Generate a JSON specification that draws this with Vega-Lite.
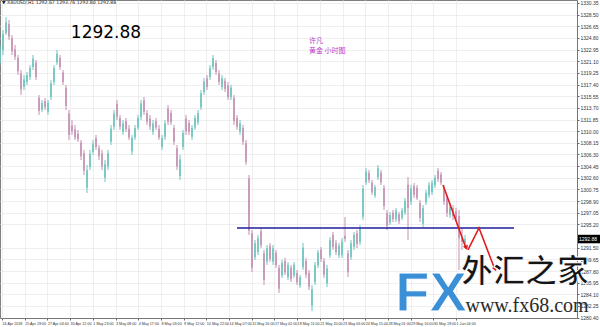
{
 "$schema": "https://vega.github.io/schema/vega-lite/v6.json",
 "width": 577, "height": 318,
 "autosize": {"type": "none"},
 "padding": {"left": 0, "top": 0, "right": 23, "bottom": 9},
 "background": "white",
 "config": {
  "view": {"stroke": "#808080", "strokeWidth": 1},
  "font": "DejaVu Sans",
  "axis": {"labelOverlap": false, "labelFlush": false, "labelBound": false, "labelFont": "Liberation Sans",
   "labelFontSize": 5, "labelColor": "#333", "labelPadding": 1, "tickSize": 2, "tickColor": "#666",
   "domainColor": "#777", "grid": true, "gridColor": "#dedede", "gridDash": [1, 1], "title": null, "tickCount": 200}
 },
 "datasets": {
  "candles": [
   {"t":0,"h":1323.68,"l":1320.5,"o":1321.2,"c":1323.0},
   {"t":3,"h":1326.06,"l":1322.09,"o":1322.9,"c":1325.4},
   {"t":6,"h":1328.12,"l":1325.26,"o":1325.6,"c":1327.3},
   {"t":9,"h":1327.65,"l":1324.47,"o":1327.0,"c":1325.0},
   {"t":12,"h":1325.26,"l":1322.09,"o":1324.8,"c":1322.7},
   {"t":15,"h":1323.68,"l":1321.3,"o":1323.0,"c":1321.8},
   {"t":18,"h":1322.09,"l":1318.92,"o":1321.6,"c":1319.5},
   {"t":21,"h":1319.71,"l":1315.74,"o":1319.2,"c":1316.6},
   {"t":24,"h":1318.92,"l":1316.53,"o":1317.0,"c":1318.2},
   {"t":27,"h":1319.39,"l":1317.33,"o":1317.8,"c":1318.9},
   {"t":30,"h":1320.5,"l":1318.12,"o":1318.6,"c":1320.0},
   {"t":33,"h":1322.09,"l":1319.71,"o":1320.2,"c":1321.5},
   {"t":36,"h":1321.3,"l":1318.12,"o":1320.9,"c":1318.6},
   {"t":39,"h":1315.74,"l":1312.57,"o":1315.3,"c":1313.2},
   {"t":42,"h":1314.95,"l":1313.04,"o":1313.4,"c":1314.5},
   {"t":45,"h":1315.26,"l":1313.36,"o":1314.8,"c":1313.8},
   {"t":48,"h":1314.95,"l":1312.57,"o":1313.1,"c":1314.5},
   {"t":51,"h":1318.12,"l":1314.95,"o":1315.4,"c":1317.6},
   {"t":54,"h":1320.5,"l":1317.33,"o":1317.8,"c":1320.0},
   {"t":57,"h":1322.88,"l":1320.5,"o":1320.9,"c":1322.3},
   {"t":60,"h":1322.09,"l":1319.71,"o":1321.6,"c":1320.2},
   {"t":63,"h":1319.71,"l":1317.33,"o":1319.3,"c":1317.8},
   {"t":66,"h":1317.33,"l":1313.36,"o":1316.9,"c":1314.0},
   {"t":69,"h":1313.36,"l":1308.6,"o":1312.8,"c":1309.4},
   {"t":72,"h":1311.77,"l":1309.39,"o":1310.9,"c":1310.0},
   {"t":75,"h":1310.98,"l":1308.6,"o":1310.3,"c":1309.0},
   {"t":78,"h":1310.19,"l":1308.28,"o":1309.6,"c":1308.7},
   {"t":81,"h":1308.6,"l":1305.42,"o":1308.2,"c":1306.0},
   {"t":84,"h":1307.01,"l":1303.04,"o":1306.5,"c":1303.7},
   {"t":87,"h":1304.63,"l":1300.19,"o":1301.0,"c":1303.8},
   {"t":90,"h":1307.01,"l":1303.84,"o":1304.3,"c":1306.4},
   {"t":93,"h":1308.6,"l":1306.22,"o":1306.7,"c":1308.0},
   {"t":96,"h":1309.39,"l":1307.01,"o":1308.9,"c":1307.5},
   {"t":99,"h":1307.8,"l":1305.42,"o":1307.3,"c":1306.0},
   {"t":102,"h":1307.01,"l":1303.84,"o":1306.5,"c":1304.4},
   {"t":105,"h":1305.42,"l":1301.93,"o":1302.6,"c":1304.8},
   {"t":108,"h":1307.01,"l":1303.84,"o":1304.4,"c":1306.5},
   {"t":111,"h":1310.98,"l":1307.8,"o":1308.3,"c":1310.4},
   {"t":114,"h":1313.36,"l":1310.19,"o":1310.7,"c":1312.8},
   {"t":117,"h":1314.95,"l":1311.77,"o":1314.3,"c":1312.3},
   {"t":120,"h":1312.57,"l":1310.19,"o":1312.1,"c":1310.7},
   {"t":123,"h":1311.77,"l":1309.39,"o":1309.9,"c":1311.2},
   {"t":126,"h":1312.09,"l":1309.87,"o":1311.6,"c":1310.3},
   {"t":129,"h":1310.98,"l":1308.6,"o":1310.4,"c":1309.0},
   {"t":132,"h":1309.39,"l":1306.22,"o":1306.8,"c":1308.9},
   {"t":135,"h":1310.98,"l":1308.6,"o":1309.0,"c":1310.5},
   {"t":138,"h":1312.57,"l":1310.19,"o":1310.6,"c":1312.1},
   {"t":141,"h":1314.95,"l":1311.77,"o":1312.3,"c":1314.4},
   {"t":144,"h":1315.42,"l":1312.57,"o":1314.9,"c":1313.1},
   {"t":147,"h":1313.36,"l":1310.98,"o":1312.9,"c":1311.5},
   {"t":150,"h":1312.57,"l":1310.19,"o":1312.0,"c":1310.7},
   {"t":153,"h":1311.77,"l":1309.39,"o":1309.9,"c":1311.2},
   {"t":156,"h":1312.09,"l":1310.19,"o":1311.6,"c":1310.6},
   {"t":159,"h":1310.98,"l":1308.6,"o":1310.4,"c":1309.0},
   {"t":162,"h":1309.39,"l":1307.01,"o":1307.5,"c":1308.9},
   {"t":165,"h":1311.77,"l":1308.6,"o":1309.1,"c":1311.2},
   {"t":168,"h":1314.15,"l":1310.98,"o":1313.6,"c":1311.5},
   {"t":171,"h":1313.36,"l":1310.98,"o":1312.9,"c":1311.4},
   {"t":174,"h":1310.98,"l":1307.8,"o":1310.5,"c":1308.3},
   {"t":177,"h":1307.8,"l":1303.84,"o":1307.3,"c":1304.4},
   {"t":180,"h":1306.22,"l":1302.25,"o":1302.9,"c":1305.5},
   {"t":183,"h":1310.19,"l":1307.01,"o":1307.5,"c":1309.7},
   {"t":186,"h":1312.57,"l":1309.39,"o":1312.0,"c":1310.0},
   {"t":189,"h":1311.77,"l":1309.39,"o":1311.3,"c":1309.9},
   {"t":192,"h":1310.98,"l":1308.6,"o":1309.1,"c":1310.5},
   {"t":195,"h":1312.57,"l":1310.19,"o":1310.6,"c":1312.1},
   {"t":198,"h":1313.36,"l":1310.98,"o":1311.4,"c":1312.9},
   {"t":201,"h":1316.53,"l":1313.36,"o":1313.8,"c":1316.0},
   {"t":204,"h":1318.44,"l":1315.74,"o":1316.2,"c":1317.9},
   {"t":207,"h":1318.92,"l":1316.53,"o":1318.4,"c":1317.0},
   {"t":210,"h":1320.5,"l":1318.12,"o":1318.6,"c":1320.0},
   {"t":213,"h":1322.09,"l":1319.71,"o":1320.2,"c":1321.6},
   {"t":216,"h":1321.3,"l":1318.92,"o":1320.8,"c":1319.4},
   {"t":219,"h":1319.71,"l":1317.33,"o":1319.2,"c":1317.8},
   {"t":222,"h":1318.92,"l":1316.53,"o":1317.0,"c":1318.4},
   {"t":225,"h":1318.44,"l":1316.22,"o":1318.0,"c":1316.7},
   {"t":228,"h":1317.8,"l":1314.95,"o":1317.3,"c":1315.4},
   {"t":231,"h":1317.33,"l":1314.95,"o":1315.4,"c":1316.9},
   {"t":234,"h":1315.74,"l":1310.98,"o":1315.3,"c":1311.6},
   {"t":237,"h":1312.57,"l":1310.19,"o":1312.1,"c":1310.7},
   {"t":240,"h":1311.77,"l":1309.39,"o":1309.9,"c":1311.2},
   {"t":243,"h":1310.98,"l":1307.8,"o":1310.5,"c":1308.3},
   {"t":246,"h":1308.6,"l":1304.63,"o":1308.1,"c":1305.1},
   {"t":249,"h":1303.04,"l":1293.52,"o":1302.5,"c":1294.2},
   {"t":252,"h":1294.31,"l":1287.65,"o":1293.8,"c":1288.3},
   {"t":255,"h":1292.72,"l":1289.55,"o":1290.0,"c":1292.2},
   {"t":258,"h":1293.52,"l":1290.34,"o":1290.8,"c":1293.0},
   {"t":261,"h":1294.63,"l":1291.45,"o":1294.1,"c":1291.9},
   {"t":264,"h":1291.14,"l":1285.58,"o":1290.6,"c":1286.4},
   {"t":267,"h":1291.93,"l":1288.76,"o":1289.3,"c":1291.4},
   {"t":270,"h":1292.25,"l":1289.23,"o":1291.8,"c":1289.7},
   {"t":273,"h":1291.93,"l":1288.76,"o":1289.3,"c":1291.4},
   {"t":276,"h":1291.14,"l":1288.28,"o":1290.7,"c":1288.7},
   {"t":279,"h":1288.76,"l":1284.31,"o":1288.3,"c":1285.0},
   {"t":282,"h":1289.55,"l":1286.69,"o":1287.1,"c":1289.1},
   {"t":285,"h":1289.87,"l":1287.17,"o":1289.4,"c":1287.6},
   {"t":288,"h":1289.23,"l":1286.38,"o":1286.8,"c":1288.8},
   {"t":291,"h":1288.76,"l":1286.06,"o":1288.3,"c":1286.5},
   {"t":294,"h":1289.23,"l":1286.69,"o":1287.1,"c":1288.8},
   {"t":297,"h":1287.96,"l":1285.58,"o":1287.5,"c":1286.0},
   {"t":300,"h":1287.17,"l":1285.11,"o":1285.5,"c":1286.8},
   {"t":303,"h":1292.25,"l":1287.96,"o":1288.4,"c":1291.5},
   {"t":306,"h":1289.87,"l":1286.69,"o":1289.4,"c":1287.2},
   {"t":309,"h":1287.96,"l":1284.79,"o":1287.5,"c":1285.3},
   {"t":312,"h":1285.58,"l":1281.45,"o":1282.3,"c":1284.9},
   {"t":315,"h":1289.23,"l":1285.58,"o":1286.0,"c":1288.7},
   {"t":318,"h":1291.14,"l":1288.28,"o":1288.7,"c":1290.7},
   {"t":321,"h":1291.61,"l":1289.23,"o":1291.2,"c":1289.7},
   {"t":324,"h":1289.87,"l":1286.69,"o":1289.4,"c":1287.2},
   {"t":327,"h":1288.76,"l":1285.26,"o":1285.8,"c":1288.2},
   {"t":330,"h":1293.2,"l":1289.87,"o":1290.3,"c":1292.7},
   {"t":333,"h":1294.0,"l":1291.14,"o":1293.5,"c":1291.6},
   {"t":336,"h":1292.72,"l":1290.34,"o":1292.2,"c":1290.8},
   {"t":339,"h":1292.25,"l":1289.87,"o":1290.3,"c":1291.8},
   {"t":342,"h":1293.04,"l":1289.87,"o":1290.3,"c":1292.5},
   {"t":345,"h":1296.38,"l":1292.41,"o":1293.4,"c":1292.9},
   {"t":348,"h":1291.14,"l":1286.85,"o":1290.6,"c":1287.6},
   {"t":351,"h":1292.72,"l":1289.55,"o":1290.0,"c":1292.2},
   {"t":354,"h":1294.0,"l":1291.14,"o":1291.6,"c":1293.5},
   {"t":357,"h":1294.31,"l":1291.45,"o":1293.8,"c":1292.1},
   {"t":360,"h":1295.11,"l":1291.93,"o":1292.4,"c":1294.6},
   {"t":363,"h":1301.46,"l":1295.9,"o":1296.4,"c":1300.9},
   {"t":366,"h":1304.15,"l":1301.46,"o":1301.9,"c":1303.6},
   {"t":369,"h":1303.84,"l":1301.77,"o":1303.4,"c":1302.2},
   {"t":372,"h":1302.25,"l":1299.87,"o":1301.8,"c":1300.3},
   {"t":375,"h":1301.46,"l":1299.39,"o":1299.8,"c":1301.1},
   {"t":378,"h":1304.63,"l":1302.25,"o":1302.7,"c":1304.1},
   {"t":381,"h":1303.84,"l":1301.46,"o":1303.4,"c":1301.9},
   {"t":384,"h":1301.46,"l":1297.49,"o":1301.0,"c":1298.1},
   {"t":387,"h":1297.49,"l":1294.31,"o":1297.0,"c":1295.0},
   {"t":390,"h":1297.17,"l":1295.11,"o":1295.5,"c":1296.7},
   {"t":393,"h":1297.49,"l":1295.58,"o":1297.1,"c":1296.0},
   {"t":396,"h":1297.81,"l":1295.58,"o":1296.0,"c":1297.4},
   {"t":399,"h":1297.17,"l":1295.26,"o":1296.8,"c":1295.7},
   {"t":402,"h":1297.81,"l":1295.9,"o":1296.2,"c":1297.4},
   {"t":405,"h":1299.39,"l":1296.69,"o":1297.1,"c":1298.9},
   {"t":408,"h":1302.72,"l":1292.72,"o":1301.5,"c":1297.8},
   {"t":411,"h":1301.46,"l":1298.28,"o":1298.8,"c":1300.9},
   {"t":414,"h":1301.77,"l":1299.39,"o":1301.3,"c":1299.9},
   {"t":417,"h":1301.46,"l":1299.07,"o":1301.0,"c":1299.4},
   {"t":420,"h":1299.07,"l":1295.58,"o":1298.6,"c":1296.2},
   {"t":423,"h":1298.28,"l":1294.79,"o":1295.3,"c":1297.8},
   {"t":426,"h":1300.66,"l":1298.28,"o":1298.7,"c":1300.2},
   {"t":429,"h":1301.93,"l":1299.39,"o":1299.8,"c":1301.4},
   {"t":432,"h":1302.25,"l":1299.87,"o":1300.3,"c":1301.8},
   {"t":435,"h":1303.04,"l":1300.98,"o":1301.4,"c":1302.6},
   {"t":438,"h":1304.15,"l":1301.93,"o":1303.7,"c":1302.4},
   {"t":441,"h":1303.52,"l":1301.46,"o":1303.1,"c":1301.8},
   {"t":444,"h":1301.46,"l":1298.28,"o":1301.0,"c":1298.8},
   {"t":447,"h":1299.87,"l":1296.38,"o":1299.4,"c":1297.0},
   {"t":450,"h":1298.6,"l":1296.22,"o":1296.7,"c":1298.0},
   {"t":453,"h":1298.28,"l":1295.9,"o":1297.8,"c":1296.5},
   {"t":456,"h":1297.81,"l":1295.58,"o":1297.3,"c":1296.0},
   {"t":459,"h":1297.49,"l":1287.96,"o":1296.5,"c":1293.0},
   {"t":462,"h":1294.63,"l":1291.14,"o":1293.0,"c":1292.4},
   {"t":465,"h":1293.52,"l":1291.45,"o":1292.2,"c":1292.88}
  ]
 },
 "layer": [
  {
   "data": {"name": "candles"},
   "mark": {"type": "rule", "strokeWidth": 1},
   "encoding": {
    "x": {"field": "t", "type": "quantitative",
     "scale": {"domain": [0, 577], "nice": false, "zero": false},
     "axis": {"orient": "bottom", "title": null, "tickCount": 200,
      "values": [2, 24.7, 47.4, 70.1, 92.8, 115.5, 138.2, 160.9, 183.6, 206.3, 229, 251.7, 274.4, 297.1, 319.8, 342.5, 365.2, 387.9, 410.6, 433.3, 456],
      "labelExpr": "['24 Apr 2018','25 Apr 19:00','27 Apr 04:00','30 Apr 12:00','1 May 23:00','3 May 08:00','4 May 17:00','8 May 03:00','9 May 12:00','10 May 22:00','14 May 07:00','15 May 16:00','17 May 02:00','18 May 11:00','21 May 20:00','23 May 06:00','24 May 15:00','28 May 01:00','29 May 10:00','30 May 19:00','1 Jun 04:00'][round((datum.value-2)/22.7)]",
      "labelAlign": "left", "labelFontSize": 3.7, "labelOverlap": false}},
    "y": {"field": "l", "type": "quantitative",
     "scale": {"domain": [1280.34, 1330.82], "nice": false, "zero": false},
     "axis": {"orient": "right", "title": null, "tickCount": 200,
      "values": [1280.40, 1282.25, 1284.10, 1285.95, 1287.80, 1289.65, 1291.50, 1295.20, 1297.05, 1298.90, 1300.75, 1302.60, 1304.45, 1306.30, 1308.15, 1310.00, 1311.85, 1313.70, 1315.55, 1317.40, 1319.25, 1321.10, 1322.95, 1324.80, 1326.65, 1328.50, 1330.35],
      "format": ".2f", "labelFontSize": 5, "labelOverlap": false}},
    "y2": {"field": "h"},
    "color": {"condition": {"test": "datum.c >= datum.o", "value": "#6cc4be"}, "value": "#c491b3"}
   }
  },
  {
   "data": {"name": "candles"},
   "mark": {"type": "rule", "strokeWidth": 1.6},
   "encoding": {
    "x": {"field": "t", "type": "quantitative"},
    "y": {"field": "o", "type": "quantitative"},
    "y2": {"field": "c"},
    "color": {"condition": {"test": "datum.c >= datum.o", "value": "#6cc4be"}, "value": "#c491b3"}
   }
  },
  {
   "data": {"values": [{"t": 237, "t2": 514, "price": 1294.63}]},
   "mark": {"type": "rule", "color": "#1f1f9a", "strokeWidth": 1.5},
   "encoding": {
    "x": {"field": "t", "type": "quantitative"},
    "x2": {"field": "t2"},
    "y": {"field": "price", "type": "quantitative"}
   }
  },
  {
   "data": {"values": [
    {"seg": 1, "k": 0, "t": 443, "price": 1301.46},
    {"seg": 1, "k": 1, "t": 466, "price": 1291.4},
    {"seg": 2, "k": 0, "t": 468, "price": 1291.14},
    {"seg": 2, "k": 1, "t": 479, "price": 1294.63},
    {"seg": 2, "k": 2, "t": 495, "price": 1288.0}
   ]},
   "mark": {"type": "line", "color": "#e01e1e", "strokeWidth": 1.6},
   "encoding": {
    "x": {"field": "t", "type": "quantitative"},
    "y": {"field": "price", "type": "quantitative"},
    "detail": {"field": "seg"},
    "order": {"field": "k"}
   }
  },
  {
   "data": {"values": [
    {"t": 466, "price": 1291.6, "ang": 160},
    {"t": 495, "price": 1288.2, "ang": 159}
   ]},
   "mark": {"type": "point", "shape": "triangle", "filled": true, "color": "#e01e1e", "size": 28, "opacity": 1},
   "encoding": {
    "x": {"field": "t", "type": "quantitative"},
    "y": {"field": "price", "type": "quantitative"},
    "angle": {"field": "ang", "type": "quantitative", "scale": null}
   }
  },
  {
   "data": {"values": [{"t": 106, "price": 1325.58, "label": "1292.88"}]},
   "mark": {"type": "text", "font": "DejaVu Sans", "fontSize": 17, "color": "#000", "align": "center", "baseline": "middle"},
   "encoding": {
    "x": {"field": "t", "type": "quantitative"},
    "y": {"field": "price", "type": "quantitative"},
    "text": {"field": "label"}
   }
  },
  {
   "data": {"values": [
    {"t": 309, "price": 1324.35, "label": "许凡"},
    {"t": 309, "price": 1322.65, "label": "黄金  小时图"}
   ]},
   "mark": {"type": "text", "font": "Noto Sans CJK SC", "fontSize": 7, "color": "#c040cc", "align": "left", "baseline": "middle"},
   "encoding": {
    "x": {"field": "t", "type": "quantitative"},
    "y": {"field": "price", "type": "quantitative"},
    "text": {"field": "label"}
   }
  },
  {
   "data": {"values": [{"t": 2, "price": 1330.3, "label": "▼ XAUUSD,H1  1292.67 1293.76 1292.80 1292.88"}]},
   "mark": {"type": "text", "font": "DejaVu Sans", "fontSize": 4.6, "color": "#222", "align": "left", "baseline": "middle"},
   "encoding": {
    "x": {"field": "t", "type": "quantitative"},
    "y": {"field": "price", "type": "quantitative"},
    "text": {"field": "label"}
   }
  },
  {
   "data": {"values": [{"t": 578, "t2": 600, "p1": 1293.55, "p2": 1292.2}]},
   "mark": {"type": "rect", "color": "#000"},
   "encoding": {
    "x": {"field": "t", "type": "quantitative"},
    "x2": {"field": "t2"},
    "y": {"field": "p1", "type": "quantitative"},
    "y2": {"field": "p2"}
   }
  },
  {
   "data": {"values": [{"t": 579, "price": 1292.88, "label": "1292.88"}]},
   "mark": {"type": "text", "font": "Liberation Sans", "fontSize": 5, "color": "#fff", "align": "left", "baseline": "middle"},
   "encoding": {
    "x": {"field": "t", "type": "quantitative"},
    "y": {"field": "price", "type": "quantitative"},
    "text": {"field": "label"}
   }
  },
  {
   "data": {"values": [{"t": 431, "price": 1281.45, "label": "FX"}]},
   "mark": {"type": "text", "font": "Liberation Sans", "fontWeight": "bold", "fontSize": 56, "color": "#3a8fd6", "stroke": "#ffffff", "strokeWidth": 1, "align": "center", "baseline": "alphabetic"},
   "encoding": {
    "x": {"field": "t", "type": "quantitative"},
    "y": {"field": "price", "type": "quantitative"},
    "text": {"field": "label"}
   }
  },
  {
   "data": {"values": [{"t": 525, "price": 1287.65, "label": "外汇之家"}]},
   "mark": {"type": "text", "font": "Noto Sans CJK SC", "fontWeight": "bold", "fontSize": 32, "color": "#151515", "stroke": "#ffffff", "strokeWidth": 1, "align": "center", "baseline": "middle"},
   "encoding": {
    "x": {"field": "t", "type": "quantitative"},
    "y": {"field": "price", "type": "quantitative"},
    "text": {"field": "label"}
   }
  },
  {
   "data": {"values": [{"t": 527, "price": 1282.25, "label": "www.fx68.com"}]},
   "mark": {"type": "text", "font": "Liberation Serif", "fontSize": 20, "color": "#2a2a2a", "align": "center", "baseline": "middle"},
   "encoding": {
    "x": {"field": "t", "type": "quantitative"},
    "y": {"field": "price", "type": "quantitative"},
    "text": {"field": "label"}
   }
  }
 ]
}
